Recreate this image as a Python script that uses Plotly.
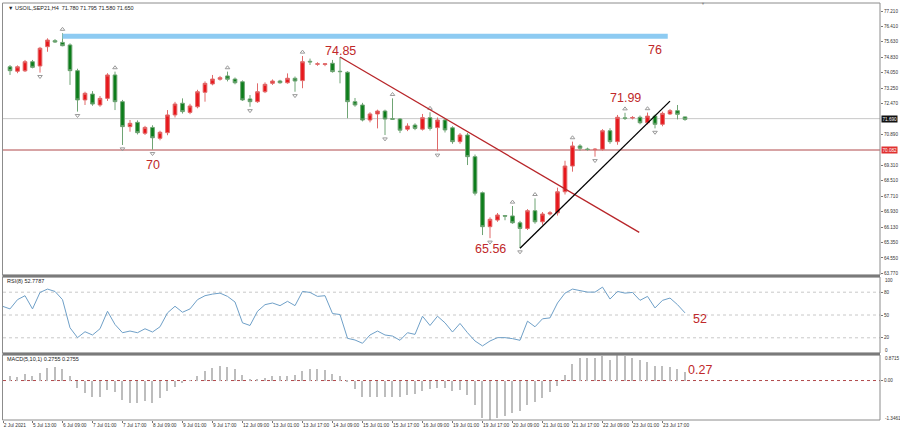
import plotly.graph_objects as go

# ---------------- data ----------------
IDX = list(range(91))
OPEN = [74.35, 74.12, 74.14, 74.61, 74.39, 75.38, 75.69, 75.60, 75.47, 74.15,
        72.65, 72.95, 72.39, 72.73, 73.93, 72.56, 71.28, 71.50, 70.94, 71.24,
        70.68, 70.97, 71.88, 72.48, 72.01, 72.30, 73.04, 73.47, 73.71, 73.88,
        73.72, 73.58, 72.70, 72.56, 73.07, 73.50, 73.62, 73.53, 73.76, 73.64,
        74.63, 74.48, 74.47, 74.53, 74.12, 74.07, 72.56, 72.39, 71.62, 71.93,
        72.08, 71.69, 71.67, 71.15, 71.36, 71.15, 71.74, 71.23, 71.62, 71.22,
        70.51, 70.85, 69.74, 67.89, 66.15, 66.49, 66.72, 66.70, 66.35, 66.06,
        66.97, 66.40, 66.80, 66.86, 67.94, 69.26, 70.29, 70.13, 70.10, 70.12,
        71.07, 70.51, 71.73, 71.72, 71.76, 71.48, 71.82, 71.40, 71.93, 72.10,
        71.78]
HIGH = [74.44, 74.42, 74.70, 74.70, 75.37, 75.81, 75.77, 76.07, 75.55, 74.25,
        73.07, 73.10, 72.85, 74.02, 74.10, 72.65, 71.62, 71.60, 71.32, 71.35,
        71.07, 72.13, 72.55, 72.73, 72.45, 73.17, 73.60, 73.93, 73.88, 74.10,
        73.80, 73.65, 72.90, 73.50, 73.55, 73.70, 73.68, 74.01, 73.85, 74.90,
        74.77, 74.58, 74.52, 74.70, 74.85, 74.12, 72.75, 72.50, 72.02, 72.15,
        72.15, 72.73, 71.72, 71.45, 71.45, 71.93, 72.02, 71.75, 71.70, 71.30,
        70.95, 70.95, 69.85, 67.95, 66.63, 66.85, 66.75, 67.21, 66.45, 67.05,
        67.60, 66.90, 66.95, 68.15, 69.53, 70.51, 70.38, 70.20, 70.18, 71.15,
        71.20, 71.88, 71.99, 71.82, 71.85, 72.00, 71.90, 72.05, 72.18, 72.39,
        71.795]
LOW = [73.93, 74.02, 74.08, 74.27, 74.05, 75.12, 75.57, 75.40, 73.42, 72.05,
       72.39, 72.35, 72.30, 72.60, 72.13, 70.34, 71.02, 70.88, 70.85, 70.10,
       70.58, 70.84, 71.75, 71.95, 71.92, 72.22, 72.56, 73.40, 73.64, 73.60,
       73.45, 72.60, 72.30, 72.50, 73.00, 73.42, 73.48, 73.48, 73.07, 73.25,
       74.44, 74.40, 74.38, 74.05, 73.50, 71.71, 72.30, 71.55, 71.50, 71.19,
       70.85, 71.62, 70.95, 71.05, 71.10, 71.08, 71.08, 70.02, 70.98, 70.40,
       70.40, 69.31, 67.75, 65.72, 65.56, 66.40, 66.48, 66.30, 65.06, 65.98,
       66.30, 66.25, 66.72, 66.72, 67.80, 68.97, 70.05, 70.05, 69.74, 70.05,
       70.40, 70.35, 71.62, 71.65, 71.40, 71.40, 71.19, 71.30, 71.88, 71.65,
       71.58]
CLOSE = [74.15, 74.35, 74.61, 74.32, 75.30, 75.72, 75.62, 75.43, 74.15, 72.65,
         72.99, 72.44, 72.73, 73.93, 72.56, 71.28, 71.45, 70.97, 71.24, 70.71,
         70.99, 71.88, 72.44, 72.05, 72.34, 73.07, 73.50, 73.72, 73.79, 73.71,
         73.53, 72.65, 72.56, 73.07, 73.45, 73.62, 73.53, 73.76, 73.62, 74.61,
         74.60, 74.50, 74.50, 74.10, 74.10, 72.56, 72.39, 71.62, 71.93, 72.08,
         71.67, 71.66, 71.10, 71.31, 71.19, 71.74, 71.19, 71.62, 71.11, 70.51,
         70.85, 69.74, 67.87, 66.15, 66.53, 66.75, 66.69, 66.35, 66.06, 66.97,
         66.40, 66.80, 66.86, 67.94, 69.26, 70.29, 70.17, 70.11, 70.12, 71.07,
         70.51, 71.76, 71.70, 71.75, 71.48, 71.82, 71.40, 71.96, 72.10, 71.91,
         71.65]

FRACTAL_UP = [7, 14, 29, 39, 51, 56, 67, 70, 75, 82, 85]
FRACTAL_DOWN = [4, 9, 15, 19, 32, 38, 50, 57, 64, 68, 78, 86]

RSI_IDX = list(range(-1, 91))
RSI = [61.5, 58.0, 70.2, 75.4, 58.0, 79.7, 84.1, 81.0, 70.2, 33.2,
       20.2, 28.0, 23.7, 31.9, 54.9, 37.5, 26.7, 28.9, 26.7, 31.9,
       27.6, 34.5, 52.8, 61.5, 53.6, 58.0, 70.2, 75.4, 77.5, 78.8,
       74.5, 67.1, 39.7, 36.2, 54.9, 63.6, 65.8, 62.3, 68.0, 62.3,
       81.0, 79.7, 74.5, 75.4, 51.9, 50.6, 19.3, 17.1, 12.8, 23.7,
       28.9, 23.7, 22.3, 16.7, 26.7, 24.5, 48.4, 36.2, 48.4, 39.7,
       27.6, 38.9, 26.7, 15.8, 9.3, 15.8, 20.2, 20.2, 18.9, 16.7,
       41.9, 34.5, 45.0, 46.2, 65.8, 78.8, 84.1, 82.3, 80.1, 80.1,
       86.7, 71.0, 81.0, 78.8, 79.7, 69.3, 74.5, 59.3, 69.3, 72.3,
       63.6, 52.78]

MACD = [0.16, 0.12, 0.21, 0.15, 0.27, 0.43, 0.46, 0.39, 0.15, -0.27,
        -0.43, -0.55, -0.57, -0.33, -0.40, -0.67, -0.77, -0.77, -0.71, -0.77,
        -0.61, -0.37, -0.21, -0.09, -0.01, 0.16, 0.33, 0.43, 0.49, 0.46,
        0.40, 0.18, 0.06, 0.04, 0.09, 0.15, 0.17, 0.17, 0.20, 0.34,
        0.39, 0.38, 0.35, 0.24, 0.15, -0.06, -0.30, -0.55, -0.55, -0.55,
        -0.55, -0.55, -0.55, -0.49, -0.46, -0.37, -0.30, -0.27, -0.27, -0.37,
        -0.33, -0.49, -0.85, -1.28, -1.3461, -1.28, -1.22, -1.10, -1.04, -0.85,
        -0.73, -0.61, -0.40, -0.18, 0.18, 0.57, 0.76, 0.76, 0.76, 0.83,
        0.71, 0.8715, 0.83, 0.77, 0.71, 0.63, 0.49, 0.49, 0.46, 0.39,
        0.2755]

PRICE_TICKS = [77.21, 76.41, 75.63, 74.83, 74.05, 73.25, 72.47, 70.89, 69.31,
               68.51, 67.71, 66.93, 66.13, 65.35, 64.55, 63.77]
RSI_TICKS = [80, 50, 20]
RSI_EDGE = [("100", 280), ("0", 350)]
RSI_LEVELS = [80, 50, 20]
MACD_TICKS = [0.0]
MACD_TICKTEXT = ["0.00"]
MACD_EDGE = [("0.8715", 358), ("-1.3461", 418)]

X_TICKVALS = [-0.9, 3, 7, 11, 15, 19, 23, 27, 31, 35, 39, 43, 47, 51, 55, 59,
              63, 67, 71, 75, 79, 83, 87]
X_TICKTEXT = ["2 Jul 2021", "5 Jul 13:00", "6 Jul 09:00", "7 Jul 01:00",
              "7 Jul 17:00", "8 Jul 09:00", "9 Jul 01:00", "9 Jul 17:00",
              "12 Jul 09:00", "13 Jul 01:00", "13 Jul 17:00", "14 Jul 09:00",
              "15 Jul 01:00", "15 Jul 17:00", "16 Jul 09:00", "19 Jul 01:00",
              "19 Jul 17:00", "20 Jul 09:00", "21 Jul 01:00", "21 Jul 17:00",
              "22 Jul 09:00", "23 Jul 01:00", "23 Jul 17:00"]

BID = 71.69
LEVEL_RED = 70.082
RES_LEVEL = 75.91
RES_X = [7, 87.7]
DOWN_TREND = [(44, 74.85), (83.9, 65.86)]
UP_TREND = [(68, 65.04), (88, 72.59)]

HEADER = "\u25BC USOIL,SEP21,H4  71.780 71.795 71.580 71.650"
RSI_TITLE = "RSI(8) 52.7787"
MACD_TITLE = "MACD(5,10,1) 0.2755 0.2755"

# ---------------- layout geometry ----------------
W, H = 900, 434
ML, MR, MT, MB = 3, 20, 3, 14
PW = W - ML - MR
PH = H - MT - MB


def px(xp):
    return (xp - ML) / PW


def py(yp):
    return min(1.0, max(0.0, (H - MB - yp) / PH))


RED = "#E8161B"
GREEN = "#0B7D1A"
LABEL_RED = "#C0282A"
FONT = "Liberation Sans"
XFONT = dict(family=FONT, size=4.8, color="#333333")
YFONT = dict(family=FONT, size=4.6, color="#333333")

fig = go.Figure()

fig.add_trace(go.Candlestick(
    x=IDX, open=OPEN, high=HIGH, low=LOW, close=CLOSE,
    increasing=dict(line=dict(color="#E06A6A", width=1), fillcolor=RED),
    decreasing=dict(line=dict(color="#6FA474", width=1), fillcolor=GREEN),
    whiskerwidth=0, xaxis="x", yaxis="y", showlegend=False, hoverinfo="skip"))

fig.add_trace(go.Scatter(
    x=FRACTAL_UP, y=[HIGH[i] + 0.2 for i in FRACTAL_UP], mode="markers",
    marker=dict(symbol="triangle-up-open", size=4, color="#9A9A9A",
                line=dict(width=1)),
    xaxis="x", yaxis="y", showlegend=False, hoverinfo="skip"))
fig.add_trace(go.Scatter(
    x=FRACTAL_DOWN, y=[LOW[i] - 0.2 for i in FRACTAL_DOWN], mode="markers",
    marker=dict(symbol="triangle-down-open", size=4, color="#9A9A9A",
                line=dict(width=1)),
    xaxis="x", yaxis="y", showlegend=False, hoverinfo="skip"))

fig.add_trace(go.Scatter(
    x=RSI_IDX, y=RSI, mode="lines", line=dict(color="#6FA0C8", width=1),
    xaxis="x", yaxis="y2", showlegend=False, hoverinfo="skip"))

fig.add_trace(go.Bar(
    x=IDX, y=MACD, width=0.22, marker=dict(color="#BDBDBD", line=dict(width=0)),
    xaxis="x", yaxis="y3", showlegend=False, hoverinfo="skip"))

shapes = []
shapes.append(dict(type="line", xref="paper", yref="y", x0=0, x1=1, y0=BID, y1=BID,
                   line=dict(color="#C8C8C8", width=1), layer="below"))
shapes.append(dict(type="line", xref="paper", yref="y", x0=0, x1=1,
                   y0=LEVEL_RED, y1=LEVEL_RED, line=dict(color="#B0484A", width=1),
                   layer="below"))
shapes.append(dict(type="line", xref="x", yref="y", x0=RES_X[0], x1=RES_X[1],
                   y0=RES_LEVEL, y1=RES_LEVEL, line=dict(color="#8DCBF2", width=5)))
shapes.append(dict(type="line", xref="x", yref="y", x0=DOWN_TREND[0][0],
                   y0=DOWN_TREND[0][1], x1=DOWN_TREND[1][0], y1=DOWN_TREND[1][1],
                   line=dict(color="#B8262A", width=1.3)))
shapes.append(dict(type="line", xref="x", yref="y", x0=UP_TREND[0][0],
                   y0=UP_TREND[0][1], x1=UP_TREND[1][0], y1=UP_TREND[1][1],
                   line=dict(color="#000000", width=1.3)))
for lv in RSI_LEVELS:
    shapes.append(dict(type="line", xref="paper", yref="y2", x0=0, x1=1, y0=lv, y1=lv,
                       line=dict(color="#C8C8C8", width=1, dash="dot"), layer="below"))
shapes.append(dict(type="line", xref="paper", yref="y3", x0=0, x1=1, y0=0, y1=0,
                   line=dict(color="#B0484A", width=1, dash="dot"), layer="below"))
for (t, b) in [(3, 275), (277, 353), (355, 420)]:
    shapes.append(dict(type="rect", xref="paper", yref="paper", x0=px(2.5), x1=px(880),
                       y0=py(b), y1=py(t), line=dict(color="#8C8C8C", width=1)))
for yy in [276, 354]:
    shapes.append(dict(type="line", xref="paper", yref="paper", x0=px(2.5), x1=px(880),
                       y0=py(yy), y1=py(yy), line=dict(color="#7A7A7A", width=2.5)))

annotations = []


def txt(x, y, text, size, color=LABEL_RED, xanchor="center", **kw):
    annotations.append(dict(xref="paper", yref="paper", x=px(x), y=py(y), text=text,
                            showarrow=False, xanchor=xanchor, yanchor="middle",
                            font=dict(family=FONT, size=size, color=color), **kw))


txt(340, 51, "74.85", 12.5)
txt(152.5, 164.5, "70", 12.5)
txt(490, 249, "65.56", 12.5)
txt(625.5, 98, "71.99", 12.5)
txt(655, 50, "76", 12.5)
txt(700, 319, "52", 12.5)
txt(700, 370, "0.27", 12.5)
txt(6, 8, HEADER, 5.5, color="#222222", xanchor="left")
txt(5, 281, RSI_TITLE, 5.5, color="#222222", xanchor="left")
txt(5, 359, MACD_TITLE, 5.5, color="#222222", xanchor="left")
txt(703, 3, "\u25BC", 4, color="#8C8C8C")
for label, yy in RSI_EDGE + MACD_EDGE:
    txt(883, yy, label, 4.6, color="#333333", xanchor="left")

annotations.append(dict(xref="paper", yref="y", x=px(881), y=BID, text="71.690",
                        showarrow=False, xanchor="left", yanchor="middle",
                        bgcolor="#111111", borderpad=0.5,
                        font=dict(family=FONT, size=4.6, color="#FFFFFF")))
annotations.append(dict(xref="paper", yref="y", x=px(881), y=LEVEL_RED, text="70.082",
                        showarrow=False, xanchor="left", yanchor="middle",
                        bgcolor="#E03030", borderpad=0.5,
                        font=dict(family=FONT, size=4.6, color="#FFFFFF")))

YCOMMON = dict(side="right", ticks="outside", ticklen=2, tickcolor="#777777",
               tickfont=YFONT, showgrid=False, zeroline=False, anchor="x",
               fixedrange=True, automargin=False, showline=False)

fig.update_layout(
    template="none",
    width=W, height=H, margin=dict(l=ML, r=MR, t=MT, b=MB, pad=0, autoexpand=False),
    paper_bgcolor="white", plot_bgcolor="white", showlegend=False,
    shapes=shapes, annotations=annotations, bargap=0,
    xaxis=dict(domain=[0, 1], anchor="y3", range=[(ML - 10) / 7.5, (880 - 10) / 7.5],
               tickmode="array", tickvals=X_TICKVALS, ticktext=X_TICKTEXT,
               tickangle=0, ticklabelposition="outside right",
               ticks="outside", ticklen=2, tickcolor="#777777", tickfont=XFONT,
               showgrid=False, zeroline=False, rangeslider=dict(visible=False),
               fixedrange=True, automargin=False, showline=False),
    yaxis=dict(domain=[py(275), 1.0], range=[63.672, 77.62], tickmode="array",
               tickvals=PRICE_TICKS, ticktext=["%.3f" % v for v in PRICE_TICKS],
               **YCOMMON),
    yaxis2=dict(domain=[py(353), py(277)], range=[0, 100], tickmode="array",
                tickvals=RSI_TICKS, ticktext=[str(v) for v in RSI_TICKS], **YCOMMON),
    yaxis3=dict(domain=[0, py(355)], range=[-1.3461, 0.8715], tickmode="array",
                tickvals=MACD_TICKS, ticktext=MACD_TICKTEXT, **YCOMMON),
)

fig.write_html("out.html", config={"displayModeBar": False},
               post_script="document.body.style.margin='0px';"
                           "document.body.style.overflow='hidden';")
